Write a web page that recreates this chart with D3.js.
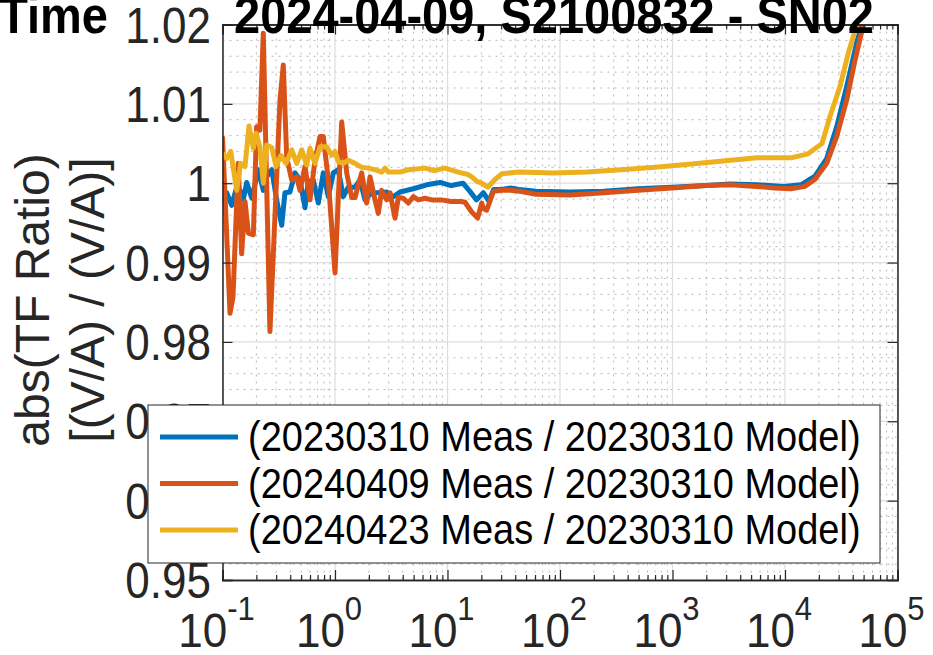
<!DOCTYPE html>
<html><head><meta charset="utf-8">
<script src="https://cdn.jsdelivr.net/npm/d3@7"></script>
<style>body{margin:0;background:#fff;overflow:hidden} text{font-family:"Liberation Sans",Arial,Helvetica,sans-serif}</style>
</head><body><svg id="c" width="933" height="655"></svg>
<script>
// ---- data ----
const seriesLabels = ["(20230310 Meas / 20230310 Model)", "(20240409 Meas / 20230310 Model)", "(20240423 Meas / 20230310 Model)"];
const seriesColors = ["#0072BD", "#D95319", "#EDB120"];
const yTickValues = [0.95, 0.96, 0.97, 0.98, 0.99, 1.00, 1.01, 1.02];
const yTickLabels = ["0.95", "0.96", "0.97", "0.98", "0.99", "1", "1.01", "1.02"];
const xTickExponents = [-1, 0, 1, 2, 3, 4, 5];
const titleParts = ["Time", "2024-04-09, S2100832 - SN02"];
const yLabelLines = ["abs(TF Ratio)", "[(V/A) / (V/A)]"];

const blueFreq = [0.1,0.109,0.1207,0.1337,0.143,0.153,0.164,0.182,0.208,0.2305,0.247,0.274,0.303,0.336,0.359,0.398,0.441,0.4885,0.541,0.579,0.641,0.7105,0.787,0.872,0.966,1.070,1.185,1.313,1.506,1.668,1.848,2.120,2.512,2.882,3.298,3.783,4.966,6.533,8.577,10.74,11.66,13.73,15.75,18.11,20.81,23.39,25.64,30.51,36.31,43.21,61.2,122.7,246.1,493.5,989.8,1986,3244,5638,9797,13875,18479,23478,28814,35354,43384,48060,52000];
const blueVal  = [0.9977,0.9988,0.9972,0.9995,0.9991,0.9979,1.0001,0.9981,1.0017,0.9991,1.0008,1.0017,0.9979,0.9947,0.9988,0.9989,1.0013,1.0004,0.9969,1.0002,1.0004,0.9975,1.0013,0.9983,1.0013,1.0017,0.9983,0.9995,0.9995,1.0004,0.9979,0.9988,0.9988,0.9989,0.9983,0.9989,0.9993,0.9998,1.0001,0.9997,0.9998,1.0000,0.9990,0.9979,0.9988,0.9977,0.9992,0.9992,0.9994,0.9992,0.9990,0.9989,0.9990,0.9993,0.9995,0.9997,0.9999,0.9998,0.9996,0.9998,1.0009,1.0031,1.0071,1.0122,1.0177,1.0199,1.0230];

const orangeFreq = [0.1,0.105,0.1166,0.124,0.138,0.148,0.1585,0.170,0.188,0.201,0.215,0.2305,0.264,0.3245,0.347,0.372,0.412,0.457,0.4885,0.541,0.5995,0.664,0.736,0.787,0.872,1.0,1.147,1.271,1.408,1.506,1.727,1.913,2.047,2.268,2.426,2.601,2.882,3.083,3.415,3.654,4.047,4.484,4.966,5.501,6.31,7.237,8.881,10.74,13.18,14.31,16.35,18.52,20.14,20.81,22.31,25.64,30.51,36.31,43.21,61.2,122.7,246.1,493.5,989.8,1986,3244,5638,7986,11305,14997,18479,23478,28814,35354,41904,49659,56000];
const orangeVal  = [1.0059,0.9988,0.9836,0.9857,1.0025,0.9911,0.9977,0.9937,0.9935,1.0071,1.0067,1.0189,0.9813,1.0105,1.0149,1.0033,1.0004,1.0008,0.9991,1.0021,0.9979,1.0029,1.0059,1.0059,1.0004,0.9887,1.0077,1.0013,0.9982,0.9982,1.0013,0.9975,1.0008,0.9979,0.9962,0.9991,0.9979,0.9988,0.9956,0.9982,0.9981,0.9975,0.9983,0.9979,0.9981,0.9979,0.9979,0.9977,0.9977,0.9976,0.9964,0.9956,0.9975,0.9968,0.9966,0.9990,0.9991,0.9991,0.9990,0.9986,0.9985,0.9988,0.9991,0.9994,0.9997,0.9998,0.9996,0.9994,0.9993,0.9996,1.0005,1.0025,1.0059,1.0105,1.0155,1.0199,1.0240];

const yellowFreq = [0.1,0.109,0.1183,0.1337,0.145,0.1585,0.172,0.188,0.1985,0.215,0.2305,0.247,0.274,0.299,0.331,0.367,0.412,0.457,0.506,0.560,0.5995,0.664,0.736,0.844,0.935,1.0,1.070,1.185,1.313,1.506,1.727,1.977,2.268,2.601,2.783,2.978,3.783,4.484,6.31,7.586,9.502,12.47,15.21,16.41,18.5,20.14,22.82,26.55,30.51,43.21,86.68,173.8,348.5,699,1402,2811,5638,11305,16013,21326,25119,30831,36536,43384,49000];
const yellowVal  = [1.0038,1.0031,1.0040,0.9991,1.0025,1.0021,1.0072,1.0044,1.0063,1.0046,1.0000,1.0048,1.0045,1.0021,1.0035,1.0025,1.0042,1.0025,1.0042,1.0023,1.0044,1.0025,1.0046,1.0046,1.0035,1.0040,1.0027,1.0025,1.0029,1.0025,1.0020,1.0019,1.0017,1.0014,1.0019,1.0014,1.0014,1.0017,1.0019,1.0016,1.0019,1.0014,1.0011,1.0008,1.0002,1.0000,0.9995,1.0005,1.0012,1.0014,1.0013,1.0014,1.0017,1.0020,1.0024,1.0028,1.0032,1.0032,1.0037,1.0050,1.0084,1.0122,1.0164,1.0199,1.0240];

// ---- drawing ----
const svg = d3.select("#c");
const L = 222.5, R = 897.5, T = 24.5, B = 580;
const x = d3.scaleLog().domain([0.1, 1e5]).range([L, R]);
const y = d3.scaleLinear().domain([0.95, 1.02]).range([B, T]);
const axisCol = "#262626";

svg.append("defs").append("clipPath").attr("id","clip")
  .append("rect").attr("x",L).attr("y",T).attr("width",R-L).attr("height",B-T);

// minor grid
const minorX = [];
for (let e = -1; e < 5; e++) for (let m = 2; m <= 9; m++) minorX.push(m * Math.pow(10, e));
const minorY = [];
for (let i = 0; i < 7; i++) for (let k = 1; k <= 4; k++) minorY.push(+(0.95 + i*0.01 + k*0.002).toFixed(4));

const grid = svg.append("g");
grid.selectAll(".mx").data(minorX).enter().append("line")
  .attr("x1", d=>x(d)).attr("x2", d=>x(d)).attr("y1", T).attr("y2", B)
  .attr("stroke", "#b8b8b8").attr("stroke-width", 1).attr("stroke-dasharray", "2,5");
grid.selectAll(".my").data(minorY).enter().append("line")
  .attr("x1", L).attr("x2", R).attr("y1", d=>y(d)).attr("y2", d=>y(d))
  .attr("stroke", "#b8b8b8").attr("stroke-width", 1).attr("stroke-dasharray", "2,5");
// major grid
const majorX = xTickExponents.map(e => Math.pow(10, e));
grid.selectAll(".gx").data(majorX).enter().append("line")
  .attr("x1", d=>x(d)).attr("x2", d=>x(d)).attr("y1", T).attr("y2", B)
  .attr("stroke", "#dedede").attr("stroke-width", 1.2);
grid.selectAll(".gy").data(yTickValues).enter().append("line")
  .attr("x1", L).attr("x2", R).attr("y1", d=>y(d)).attr("y2", d=>y(d))
  .attr("stroke", "#dedede").attr("stroke-width", 1.2);

// lines
const series = [
  {f: blueFreq, v: blueVal},
  {f: orangeFreq, v: orangeVal},
  {f: yellowFreq, v: yellowVal}
];
const line = d3.line().x(d=>x(d[0])).y(d=>y(d[1]));
const lg = svg.append("g").attr("clip-path","url(#clip)");
series.forEach((s,i) => {
  lg.append("path").datum(s.f.map((f,j)=>[f, s.v[j]]))
    .attr("d", line).attr("fill","none").attr("stroke", seriesColors[i])
    .attr("stroke-width", 5).attr("stroke-linejoin","round").attr("stroke-linecap","butt");
});

// axes (ticks inward)
const axB = d3.axisBottom(x).tickValues(majorX).tickSize(-10).tickFormat("");
const axT = d3.axisTop(x).tickValues(majorX).tickSize(-10).tickFormat("");
const axBm = d3.axisBottom(x).tickValues(minorX).tickSize(-5).tickFormat("");
const axTm = d3.axisTop(x).tickValues(minorX).tickSize(-5).tickFormat("");
const axLft = d3.axisLeft(y).tickValues(yTickValues).tickSize(-10).tickFormat("");
const axRgt = d3.axisRight(y).tickValues(yTickValues).tickSize(-10).tickFormat("");
[[axB,`translate(0,${B})`],[axBm,`translate(0,${B})`],[axT,`translate(0,${T})`],[axTm,`translate(0,${T})`],[axLft,`translate(${L},0)`],[axRgt,`translate(${R},0)`]]
 .forEach(([a,t]) => {
   const g = svg.append("g").attr("transform", t).call(a);
   g.select(".domain").attr("stroke", axisCol).attr("stroke-width", 1.5);
   g.selectAll(".tick line").attr("stroke", axisCol).attr("stroke-width", 1.2);
 });

// y tick labels
svg.append("g").selectAll("text").data(yTickValues).enter().append("text")
  .attr("transform", d => `translate(211,${y(d)+18}) scale(1,1.15)`)
  .attr("text-anchor","end")
  .attr("font-size", 44).attr("fill", axisCol)
  .text((d,i) => yTickLabels[i]);

// x tick labels
const xl = svg.append("g").selectAll("g").data(xTickExponents).enter().append("g")
  .attr("transform", e => `translate(${x(Math.pow(10,e)) - 6},647)`);
xl.append("text").attr("text-anchor","middle").attr("fill",axisCol)
  .attr("font-size", 44).attr("transform","scale(1,1.1)")
  .selectAll("tspan").data(e => [["10", 0], [String(e), 1]]).enter().append("tspan")
  .attr("baseline-shift", d => d[1] ? "80%" : null)
  .attr("font-size", d => d[1] ? 31 : 44)
  .text(d => d[0]);

// y label
const yl = svg.append("g").attr("transform","translate(0,300) rotate(-90)");
yl.selectAll("text").data(yLabelLines).enter().append("text")
  .attr("x", 0).attr("y", (d,i) => 49 + i*55)
  .attr("text-anchor","middle").attr("font-size", 48).attr("fill", axisCol)
  .text(d => d);

// title (cut off at top)
svg.append("text").attr("transform","translate(108,33) scale(1,1.1)").attr("text-anchor","end")
  .attr("font-size", 47).attr("font-weight","bold").attr("fill","#000").text(titleParts[0]);
svg.append("text").attr("transform","translate(554,33) scale(1,1.1)").attr("text-anchor","middle")
  .attr("font-size", 47).attr("font-weight","bold").attr("fill","#000").text(titleParts[1]);

// legend
const lgx = 148, lgy = 405, lgw = 732, lgh = 158;
svg.append("rect").attr("x",lgx).attr("y",lgy).attr("width",lgw).attr("height",lgh)
  .attr("fill","#fff").attr("stroke",axisCol).attr("stroke-width",1);
const rows = svg.append("g").selectAll("g").data(seriesLabels).enter().append("g")
  .attr("transform", (d,i) => `translate(0,${437 + i*46.5})`);
rows.append("line").attr("x1",160).attr("x2",238).attr("y1",0).attr("y2",0)
  .attr("stroke",(d,i)=>seriesColors[i]).attr("stroke-width",5);
rows.append("text").attr("transform","translate(248,14) scale(1,1.1)")
  .attr("font-size",38).attr("fill","#000").text(d=>d);
</script></body></html>
